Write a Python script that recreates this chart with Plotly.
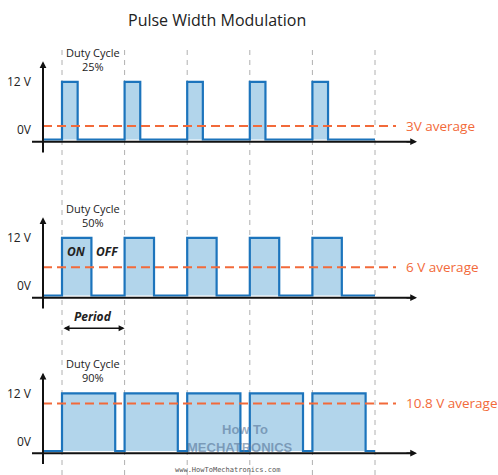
import plotly.graph_objects as go

# ---- data ----
duty_labels = ["25%", "50%", "90%"]
duty_drawn = [0.25, 0.47, 0.85]          # pulse width as drawn (fraction of period)
avg_drawn = [2.8, 5.9, 9.9]              # average line level as drawn (V)
avg_labels = ["3V average", "6 V average", "10.8 V average"]
v_high = 12.0
n_periods = 5
y_tick_labels = ["12 V", "0V"]

W, H = 498, 475
X0_PX, PERIOD_PX = 62.0, 62.6
PPV = 4.8  # pixels per volt

def tx(px):
    return (px - X0_PX) / PERIOD_PX

# panel pixel layout: (top_px, bottom_px, zero_px)
panels = [(30, 160, 139.5), (172, 336, 295.5), (340, 475, 451.0)]

BLUE = "#1c74bc"
FILL = "rgba(178,213,235,1)"
ORANGE = "#f26a3a"
TXT = "#222222"
FONT = "Open Sans"

fig = go.Figure()
layout = dict(width=W, height=H, margin=dict(l=0, r=0, t=0, b=0),
              paper_bgcolor="white", plot_bgcolor="rgba(0,0,0,0)",
              showlegend=False)
xr = [tx(0), tx(W)]
layout["xaxis"] = dict(range=xr, visible=False, fixedrange=True)
shapes, annotations = [], []

for i, (top, bot, zero) in enumerate(panels):
    yname = "y" if i == 0 else f"y{i+1}"
    akey = "yaxis" if i == 0 else f"yaxis{i+1}"
    layout[akey] = dict(domain=[1 - bot / H, 1 - top / H],
                        range=[-(bot - zero) / PPV, (zero - top) / PPV],
                        visible=False, fixedrange=True)
    d = duty_drawn[i]
    xs, ys = [tx(43)], [0]
    for k in range(n_periods):
        xs += [k, k, k + d, k + d]
        ys += [0, v_high, v_high, 0]
    xs.append(n_periods)
    ys.append(0)
    fig.add_trace(go.Scatter(x=xs, y=ys, yaxis=yname, mode="lines",
                             line=dict(color=BLUE, width=2.2),
                             fill="tozeroy", fillcolor=FILL,
                             hoverinfo="skip"))
    # average dashed line
    fig.add_trace(go.Scatter(x=[tx(43), tx(396)], y=[avg_drawn[i]] * 2,
                             yaxis=yname, mode="lines",
                             line=dict(color=ORANGE, width=2, dash="9px,5px"),
                             hoverinfo="skip"))
    # axes (black)
    axis_y = -0.45
    shapes.append(dict(type="line", xref="x", yref=yname,
                       x0=tx(32), x1=tx(412), y0=axis_y, y1=axis_y,
                       line=dict(color="#111", width=2)))
    annotations.append(dict(xref="x", yref=yname, axref="x", ayref=yname,
                            x=tx(417), y=axis_y, ax=tx(405), ay=axis_y,
                            text="", showarrow=True, arrowhead=2,
                            arrowsize=0.9, arrowwidth=1.5, arrowcolor="#111"))
    shapes.append(dict(type="line", xref="x", yref=yname,
                       x0=tx(43), x1=tx(43), y0=-2.7, y1=15.0,
                       line=dict(color="#111", width=2)))
    annotations.append(dict(xref="x", yref=yname, axref="x", ayref=yname,
                            x=tx(43), y=16.3, ax=tx(43), ay=14.5,
                            text="", showarrow=True, arrowhead=2,
                            arrowsize=0.9, arrowwidth=1.5, arrowcolor="#111"))
    # tick labels
    annotations.append(dict(xref="x", yref=yname, x=tx(34), y=v_high,
                            text=y_tick_labels[0], showarrow=False,
                            xanchor="right", yanchor="middle",
                            font=dict(family=FONT, size=12, color=TXT)))
    annotations.append(dict(xref="x", yref=yname, x=tx(34), y=2.0,
                            text=y_tick_labels[1], showarrow=False,
                            xanchor="right", yanchor="middle",
                            font=dict(family=FONT, size=12, color=TXT)))
    # duty cycle label
    annotations.append(dict(xref="x", yref=yname, x=0.5, y=16.7,
                            text="Duty Cycle<br>" + duty_labels[i],
                            showarrow=False, xanchor="center",
                            yanchor="middle",
                            font=dict(family=FONT, size=11, color=TXT)))
    # average label
    annotations.append(dict(xref="x", yref=yname, x=tx(404),
                            y=avg_drawn[i], text=avg_labels[i],
                            showarrow=False, xanchor="left", yanchor="middle",
                            font=dict(family=FONT, size=13.5, color=ORANGE)))

# ON / OFF
annotations.append(dict(xref="x", yref="y2", x=tx(76.5), y=9.1,
                        text="<b><i>ON</i></b>", showarrow=False,
                        font=dict(family=FONT, size=12, color=TXT)))
annotations.append(dict(xref="x", yref="y2", x=tx(107), y=9.1,
                        text="<b><i>OFF</i></b>", showarrow=False,
                        font=dict(family=FONT, size=12, color=TXT)))
# Period
annotations.append(dict(xref="x", yref="y2", x=0.5, y=-4.3,
                        text="<b><i>Period</i></b>", showarrow=False,
                        font=dict(family=FONT, size=12, color=TXT)))
annotations.append(dict(xref="x", yref="y2", axref="x", ayref="y2",
                        x=1, y=-6.8, ax=0, ay=-6.8, text="",
                        showarrow=True, arrowhead=2, startarrowhead=2,
                        arrowside="end+start", arrowsize=0.8,
                        startarrowsize=0.8, arrowwidth=1.5,
                        arrowcolor="#111"))

# vertical dashed grid lines
for k in range(n_periods + 1):
    shapes.append(dict(type="line", xref="x", yref="paper", x0=k, x1=k,
                       y0=0, y1=1 - 48 / H, layer="below",
                       line=dict(color="#b0b0b0", width=1, dash="5px,5px")))

# title
annotations.append(dict(xref="paper", yref="paper", x=217 / W, y=1 - 20 / H,
                        text="Pulse Width Modulation", showarrow=False,
                        xanchor="center", yanchor="middle",
                        font=dict(family=FONT, size=16, color=TXT)))

# watermark
WM = "rgba(85,115,150,0.6)"
WMF = "Liberation Sans Narrow, Liberation Sans"
annotations.append(dict(xref="paper", yref="paper", x=245 / W, y=1 - 439 / H,
                        text="<b>How To</b>", showarrow=False,
                        font=dict(family=WMF, size=13, color=WM)))
annotations.append(dict(xref="paper", yref="paper", x=240 / W, y=1 - 457 / H,
                        text="<b>MECHATRONICS</b>", showarrow=False,
                        font=dict(family=WMF, size=13, color=WM)))
annotations.append(dict(xref="paper", yref="paper", x=227 / W, y=1 - 470 / H,
                        text="www.HowToMechatronics.com", showarrow=False,
                        yanchor="middle",
                        font=dict(family="DejaVu Sans Mono", size=7,
                                  color="#555")))

layout["shapes"] = shapes
layout["annotations"] = annotations
fig.update_layout(**layout)
fig.write_html("out.html", config={"displayModeBar": False},
               post_script="document.body.style.margin='0';document.body.style.overflow='hidden';")
